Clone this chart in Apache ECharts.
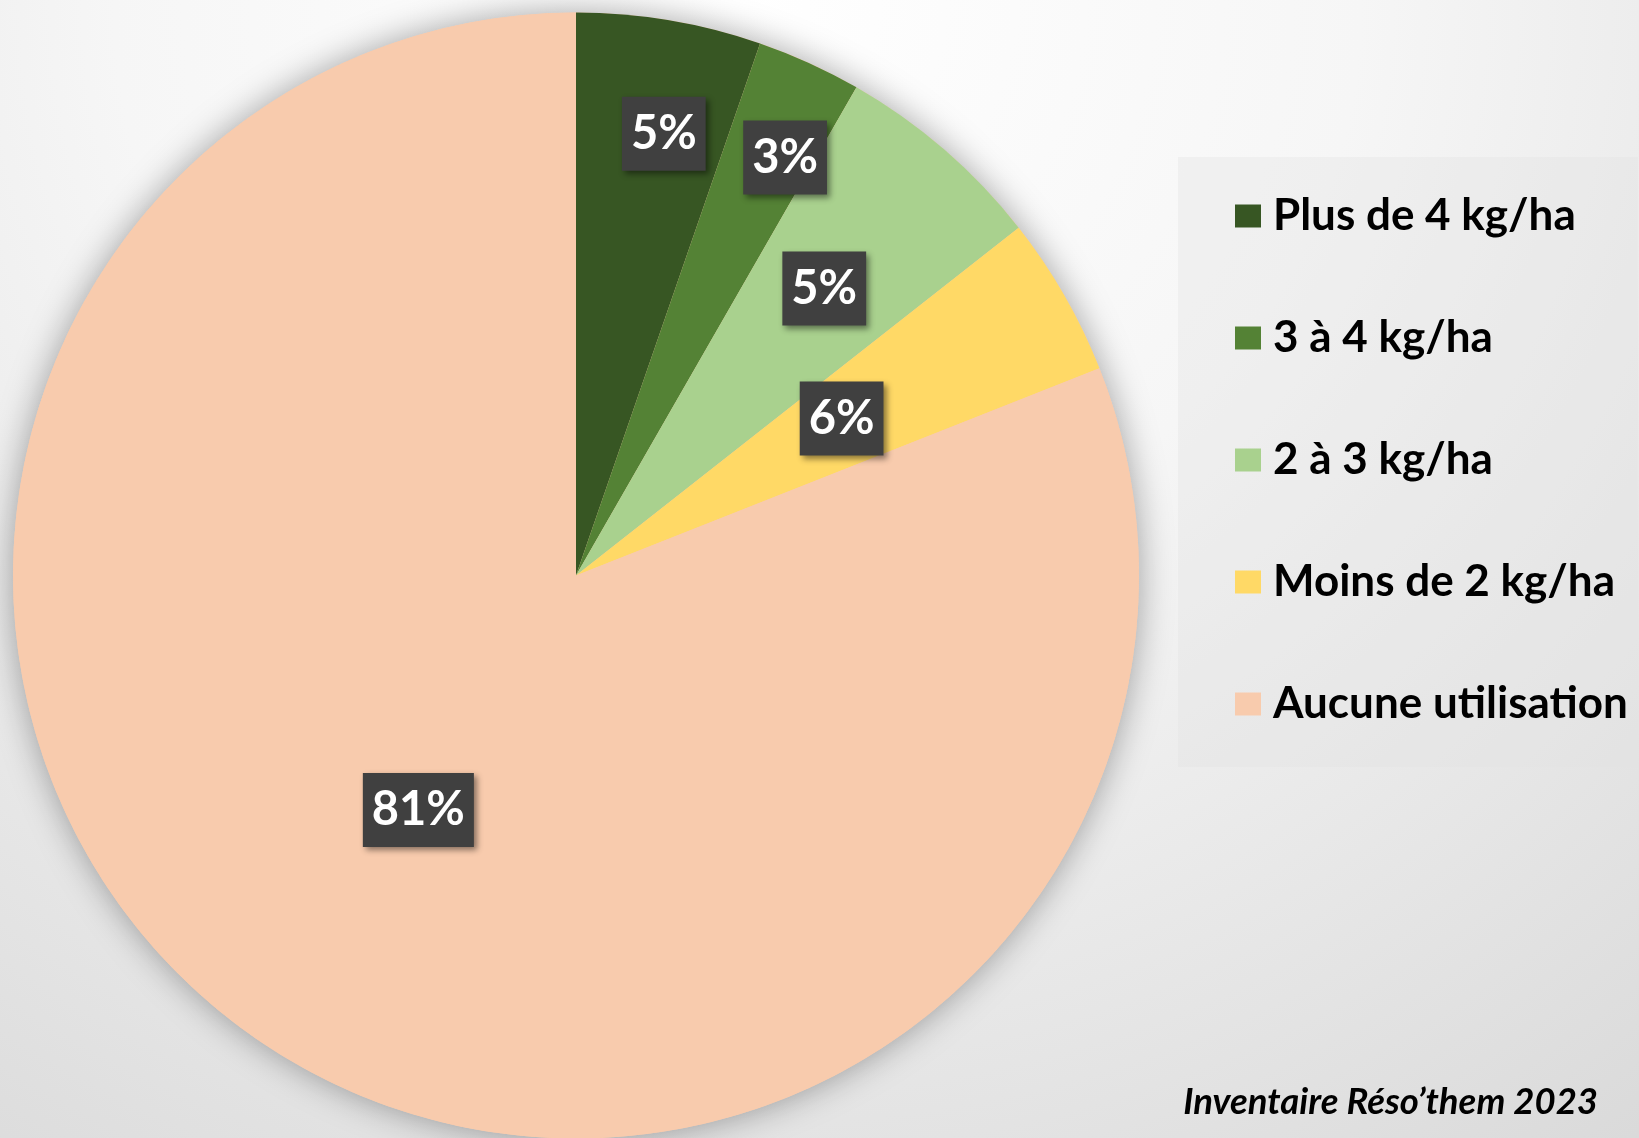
<!DOCTYPE html>
<html>
<head>
<meta charset="utf-8">
<script src="https://cdn.jsdelivr.net/npm/echarts@6/dist/echarts.min.js"></script>
<style>
  html, body { margin: 0; padding: 0; }
  body {
    width: 1639px; height: 1138px; overflow: hidden;
    background: radial-gradient(ellipse 95% 130% at 45% 0%, #ffffff 0%, #f6f6f6 40%, #d8d8d8 100%);
  }
  #chart { width: 1639px; height: 1138px; }
</style>
</head>
<body>
<div id="chart"></div>
<script>
// data
const categories = ['Plus de 4 kg/ha', '3 à 4 kg/ha', '2 à 3 kg/ha', 'Moins de 2 kg/ha', 'Aucune utilisation']
const shares = [5.3, 3.0, 6.1, 4.6, 81.0]
const shareLabels = ['5%', '3%', '5%', '6%', '81%']
const colors = ['#375623', '#548235', '#a9d18e', '#ffd966', '#f8cbad']
const sourceNote = 'Inventaire Réso\u2019them 2023'

// pie geometry (pixels)
const cx = 576, cy = 575.5, R = 563
// label placement: share of the radius, and a small turn (degrees) off the slice middle
const labelRadius = [0.8, 0.83, 0.674, 0.548, 0.502]
const labelTurn = [1.7, 2.1, 0, -0.7, -0.3]

const total = shares.reduce((a, b) => a + b, 0)
const midAngles = []
let acc = 0
shares.forEach(v => {
    midAngles.push(((acc + v / 2) / total) * 2 * Math.PI)
    acc += v
})

const chart = echarts.init(document.getElementById('chart'))

const option = {
    backgroundColor: 'transparent',
    animation: false,
    color: colors,
    legend: {
        data: categories,
        orient: 'vertical',
        left: 1178,
        top: 157,
        padding: [34, 10, 38, 57],
        backgroundColor: 'rgba(225,225,225,0.35)',
        itemWidth: 26,
        itemHeight: 23,
        itemGap: 72,
        icon: 'rect',
        textStyle: {
            fontFamily: 'Lato',
            fontWeight: 'bold',
            fontSize: 44,
            lineHeight: 50,
            color: '#000',
            padding: [0, 0, 0, 7],
        },
    },
    title: {
        text: sourceNote,
        right: 41,
        bottom: 17,
        padding: 0,
        textStyle: {
            fontFamily: 'Lato',
            fontWeight: 'bold',
            fontStyle: 'italic',
            fontSize: 36.5,
            color: '#000',
        },
    },
    series: [
        {
            // shadow disc beneath the slices
            type: 'pie',
            silent: true,
            z: 1,
            center: [cx, cy],
            radius: R,
            label: { show: false },
            labelLine: { show: false },
            data: [{ value: 1, name: '_shadow', itemStyle: { color: '#f8cbad', shadowBlur: 34, shadowColor: 'rgba(0,0,0,0.35)' } }],
        },
        {
            type: 'pie',
            z: 2,
            center: [cx, cy],
            radius: R,
            startAngle: 90,
            clockwise: true,
            avoidLabelOverlap: false,
            data: categories.map((name, i) => ({ name: name, value: shares[i] })),
            label: {
                show: true,
                position: 'inside',
                formatter: p => shareLabels[p.dataIndex],
                fontFamily: 'Lato',
                fontWeight: 'bold',
                fontSize: 47,
                lineHeight: 56,
                color: '#ffffff',
                backgroundColor: '#404040',
                padding: [9, 9, 9, 9],
                shadowColor: 'rgba(0,0,0,0.45)',
                shadowBlur: 6,
                shadowOffsetX: 3,
                shadowOffsetY: 3,
            },
            labelLine: { show: false },
            labelLayout: function (params) {
                const i = params.dataIndex
                const r = labelRadius[i] * R
                const a = midAngles[i] + (labelTurn[i] * Math.PI) / 180
                return {
                    x: cx + r * Math.sin(a),
                    y: cy - r * Math.cos(a),
                    align: 'center',
                    verticalAlign: 'middle',
                }
            },
        },
    ],
}

chart.setOption(option)
</script>
</body>
</html>
